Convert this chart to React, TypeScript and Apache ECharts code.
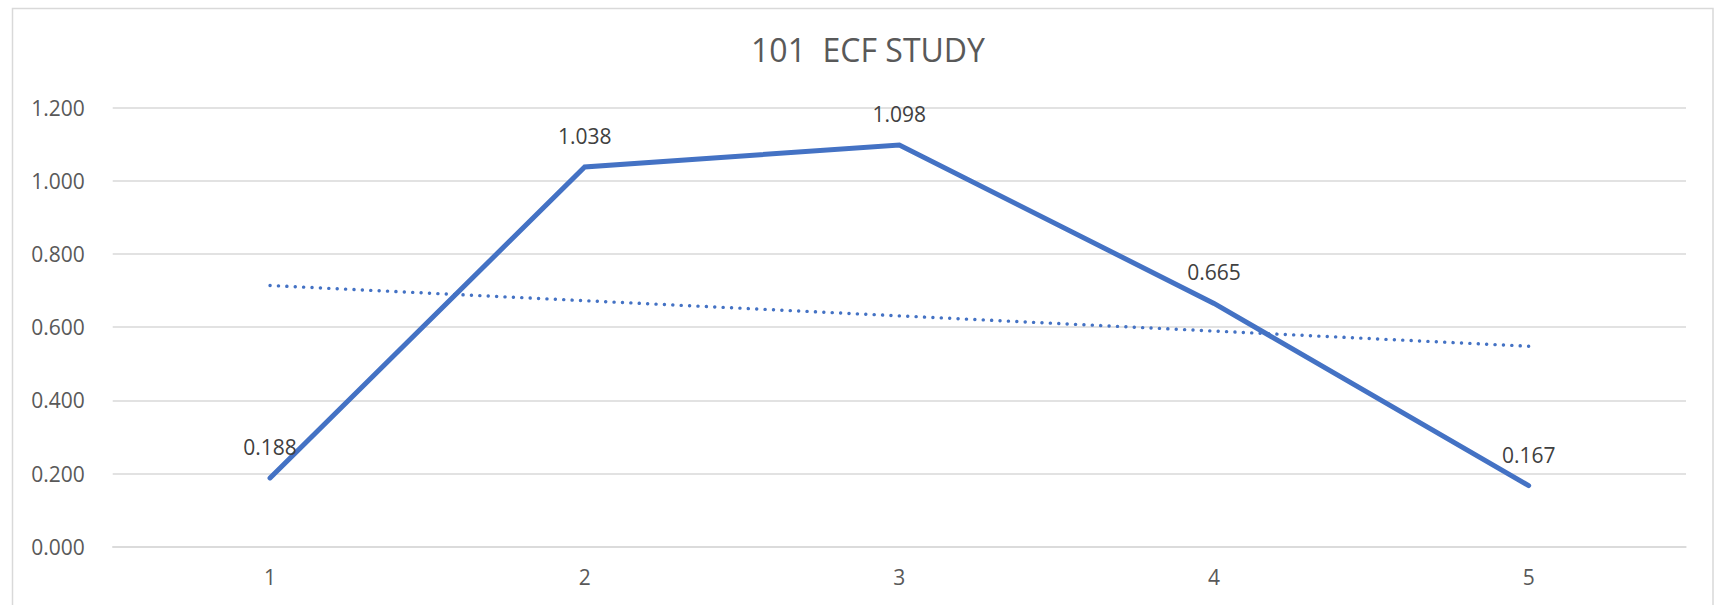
import React, { useEffect, useRef } from "react";
import * as echarts from "echarts";

const categories = ["1", "2", "3", "4", "5"];
const ecfValues = [0.188, 1.038, 1.098, 0.665, 0.167];
// linear trendline end points
const trendCategories = ["1", "5"];
const trendValues = [0.714, 0.548];
const titleText = "101  ECF STUDY";

export default function App() {
  const ref = useRef<HTMLDivElement>(null);
  useEffect(() => {
    if (!ref.current) return;
    const chart = echarts.init(ref.current, undefined, { renderer: "svg" });
    const font = "'Open Sans', sans-serif";
    chart.setOption({
      animation: false,
      backgroundColor: "#ffffff",
      textStyle: { fontFamily: font },
      title: {
        text: titleText,
        left: 863,
        textAlign: "center",
        top: 28,
        textStyle: { fontFamily: font, fontSize: 32, fontWeight: "normal", color: "#595959" },
      },
      graphic: [
        {
          type: "rect",
          shape: { x: 12.5, y: 8.5, width: 1700.5, height: 620 },
          style: { fill: "none", stroke: "#d9d9d9", lineWidth: 1.5 },
          silent: true,
        },
      ],
      grid: { left: 112.7, right: 34, top: 107.7, bottom: 58.3, containLabel: false },
      xAxis: {
        type: "category",
        data: categories,
        boundaryGap: true,
        axisLine: { show: true, lineStyle: { color: "#d9d9d9", width: 1.5 } },
        axisTick: { show: false },
        axisLabel: { fontFamily: font, fontSize: 21, color: "#595959", margin: 20 },
        splitLine: { show: false },
      },
      yAxis: {
        type: "value",
        min: 0,
        max: 1.2,
        interval: 0.2,
        axisLine: { show: false },
        axisTick: { show: false },
        axisLabel: {
          fontFamily: font,
          fontSize: 21,
          color: "#595959",
          margin: 28,
          formatter: (v: number) => v.toFixed(3),
        },
        splitLine: { show: true, lineStyle: { color: "#d9d9d9", width: 1.5 } },
      },
      series: [
        {
          type: "line",
          data: ecfValues,
          symbol: "circle",
          symbolSize: 1,
          showSymbol: true,
          itemStyle: { color: "rgba(68,114,196,0)" },
          lineStyle: { color: "#4472C4", width: 5, cap: "round", join: "miter" },
          label: {
            show: true,
            position: "top",
            distance: 20,
            fontFamily: font,
            fontSize: 21,
            color: "#404040",
            formatter: (p: any) => Number(p.value).toFixed(3),
          },
          z: 3,
        },
        {
          type: "line",
          data: trendCategories.map((c, i) => [c, trendValues[i]]),
          symbol: "none",
          lineStyle: { color: "#4472C4", width: 3.4, type: [0.1, 8.3], cap: "round" },
          z: 2,
        },
      ],
    });
    return () => chart.dispose();
  }, []);
  return (
    <div
      ref={ref}
      style={{ position: "fixed", left: 0, top: 0, width: 1720, height: 605, background: "#fff" }}
    />
  );
}
